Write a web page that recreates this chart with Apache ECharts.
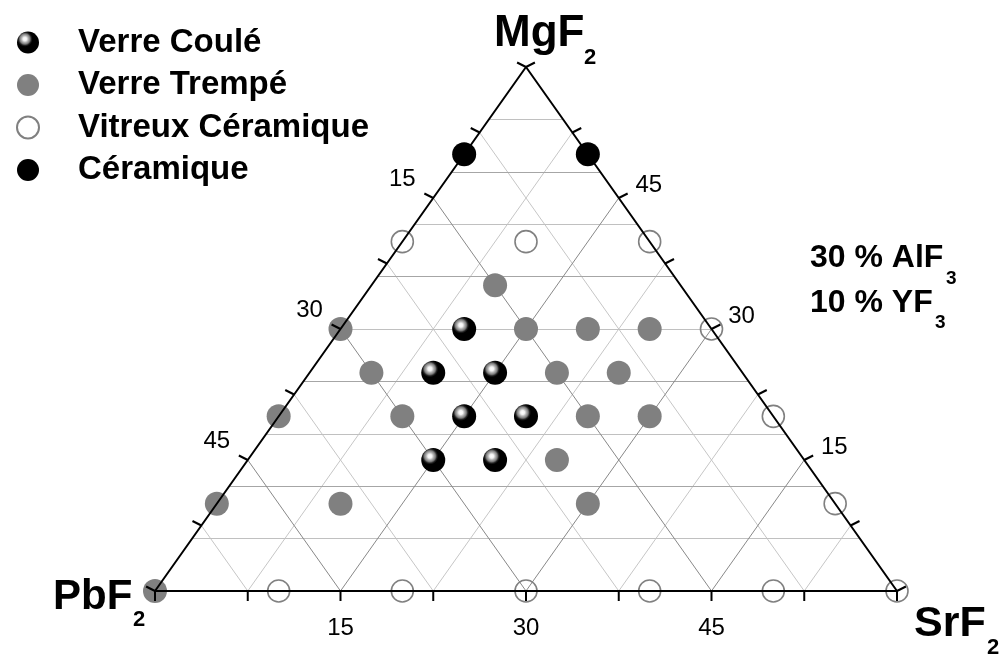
<!DOCTYPE html>
<html>
<head>
<meta charset="utf-8">
<script src="https://cdn.jsdelivr.net/npm/echarts@6/dist/echarts.min.js"></script>
<style>
html,body{margin:0;padding:0;background:#fff;}
#chart{width:1005px;height:658px;}
</style>
</head>
<body>
<div id="chart"></div>
<script>
// ---- data: compositions [PbF2, SrF2, MgF2] (mol %, sum = 60; + 30 % AlF3 + 10 % YF3)
const categories = ['Verre Coulé', 'Verre Trempé', 'Vitreux Céramique', 'Céramique'];
const verreCoule = [[20,10,30],[25,10,25],[20,15,25],[25,15,20],[20,20,20],[30,15,15],[25,20,15]];
const verreTrempe = [[15,10,35],[30,0,30],[15,15,30],[10,20,30],[5,25,30],[30,5,25],[15,20,25],[10,25,25],
  [40,0,20],[30,10,20],[15,25,20],[10,30,20],[20,25,15],[50,0,10],[40,10,10],[20,30,10],[60,0,0]];
const vitreuxCeramique = [[20,0,40],[10,10,40],[0,20,40],[0,30,30],[0,40,20],[0,50,10],[0,60,0],
  [50,10,0],[40,20,0],[30,30,0],[20,40,0],[10,50,0]];
const ceramique = [[10,0,50],[0,10,50]];
const axisTotal = 60;
const tickValues = [0,7.5,15,22.5,30,37.5,45,52.5,60];
const tickLabels = [15,30,45];
const slantGrid = [7.5,15,22.5,30,37.5,45,52.5];
const slantMajor = [15,30,45];
const horizGrid = [6,12,18,24,30,36,42,48,54];
const horizMajor = [12,24,36,48];

// ternary -> cartesian (x = SrF2 + MgF2/2, y = MgF2)
function toXY(pb, sr, mg){ return [sr + mg/2, mg]; }

const FONT = '"Liberation Sans", Arial, Helvetica, sans-serif';
const DARK = '#888888', LIGHT = '#c6c6c6';

// grid lines
const gridDark = [], gridLight = [];
slantGrid.forEach(v => {
  const major = slantMajor.indexOf(v) >= 0;
  // constant SrF2 = v : bottom -> right edge
  const a = {coords:[toXY(axisTotal - v, v, 0), toXY(0, v, axisTotal - v)]};
  // constant PbF2 = v : bottom -> left edge
  const b = {coords:[toXY(v, axisTotal - v, 0), toXY(v, 0, axisTotal - v)]};
  (major ? gridDark : gridLight).push(a, b);
});
const hDark = [], hLight = [];
horizGrid.forEach(m => {
  const l = {coords:[toXY(axisTotal - m, 0, m), toXY(0, axisTotal - m, m)]};
  (horizMajor.indexOf(m) >= 0 ? hDark : hLight).push(l);
});

// tick data: [edge, value]; edge 0 = bottom (SrF2), 1 = left (PbF2), 2 = right (MgF2)
const tickData = [];
[0,1,2].forEach(e => tickValues.forEach(v => tickData.push([e, v])));

function edgePoint(e, v){
  if (e === 0) return toXY(axisTotal - v, v, 0);
  if (e === 1) return toXY(v, 0, axisTotal - v);
  return toXY(0, axisTotal - v, v);
}

const tri = [toXY(60,0,0), toXY(0,60,0), toXY(0,0,60), toXY(60,0,0)];

const glossy = {
  type:'radial', x:0.36, y:0.34, r:0.7,
  colorStops:[
    {offset:0, color:'#ffffff'},
    {offset:0.12, color:'#f2f2f2'},
    {offset:0.22, color:'#b4b4b4'},
    {offset:0.33, color:'#7c7c7c'},
    {offset:0.42, color:'#222222'},
    {offset:0.5, color:'#000000'},
    {offset:1, color:'#000000'}
  ]
};

const chart = echarts.init(document.getElementById('chart'), null, {renderer:'canvas'});

function pts(arr){ return arr.map(d => toXY(d[0], d[1], d[2])); }

chart.setOption({
  animation:false,
  backgroundColor:'#fff',
  grid:{left:155, right:108, top:67, bottom:67},
  xAxis:{type:'value', min:0, max:axisTotal, show:false},
  yAxis:{type:'value', min:0, max:axisTotal, show:false},
  legend:{
    orient:'vertical', left:11, top:21,
    itemWidth:22, itemHeight:22, itemGap:9.5,
    icon:'circle',
    data:categories,
    textStyle:{fontSize:33, fontWeight:'bold', fontFamily:FONT, color:'#000', lineHeight:33, padding:[0,0,0,34]}
  },
  series:[
    {type:'lines', coordinateSystem:'cartesian2d', z:1, silent:true, lineStyle:{color:LIGHT, width:1, opacity:1}, data:gridLight},
    {type:'lines', coordinateSystem:'cartesian2d', z:1, silent:true, lineStyle:{color:'#c0c0c0', width:1, opacity:1}, data:hLight},
    {type:'lines', coordinateSystem:'cartesian2d', z:1, silent:true, lineStyle:{color:'#a6a6a6', width:1, opacity:1}, data:hDark},
    {type:'lines', coordinateSystem:'cartesian2d', z:1, silent:true, lineStyle:{color:DARK, width:1, opacity:1}, data:gridDark},
    {name:categories[0], type:'scatter', z:3, clip:false, symbol:'circle', symbolSize:24,
      itemStyle:{color:glossy, opacity:1}, data:pts(verreCoule)},
    {name:categories[1], type:'scatter', z:3, clip:false, symbol:'circle', symbolSize:24,
      itemStyle:{color:'#808080', opacity:1}, data:pts(verreTrempe)},
    {name:categories[2], type:'scatter', z:3, clip:false, symbol:'circle', symbolSize:22,
      itemStyle:{color:'rgba(255,255,255,0)', borderColor:'#808080', borderWidth:1.6, opacity:1}, data:pts(vitreuxCeramique)},
    {name:categories[3], type:'scatter', z:3, clip:false, symbol:'circle', symbolSize:24,
      itemStyle:{color:'#000', opacity:1}, data:pts(ceramique)},
    {type:'line', z:5, clip:false, silent:true, symbol:'none', lineStyle:{color:'#000', width:2}, data:tri},
    {type:'custom', coordinateSystem:'cartesian2d', z:6, clip:false, silent:true, data:tickData,
      encode:{x:-1, y:-1},
      renderItem:function(params, api){
        const e = api.value(0), v = api.value(1);
        const p = api.coord(edgePoint(e, v));
        let dx, dy, ox, oy;
        if (e === 0){ dx = 0; dy = 1; ox = 0; oy = 37; }
        else if (e === 1){ dx = -0.89; dy = -0.45; ox = -31; oy = -19; }
        else { dx = 0.89; dy = -0.45; ox = 30; oy = -13; }
        const L = 10;
        const children = [{type:'line', shape:{x1:p[0], y1:p[1], x2:p[0]+dx*L, y2:p[1]+dy*L},
          style:{stroke:'#000', lineWidth:2}}];
        if (tickLabels.indexOf(v) >= 0){
          children.push({type:'text', x:p[0]+ox, y:p[1]+oy,
            style:{text:String(v), font:'24px ' + FONT, fill:'#000', align:'center', verticalAlign:'middle'}});
        }
        return {type:'group', children:children};
      }
    }
  ],
  graphic:[
    {type:'text', left:494, top:12, style:{text:'MgF', font:'bold 44px ' + FONT, fill:'#000'}},
    {type:'text', left:584, top:47, style:{text:'2', font:'bold 22px ' + FONT, fill:'#000'}},
    {type:'text', left:53, top:576, style:{text:'PbF', font:'bold 42px ' + FONT, fill:'#000'}},
    {type:'text', left:133, top:609, style:{text:'2', font:'bold 22px ' + FONT, fill:'#000'}},
    {type:'text', left:914, top:603, style:{text:'SrF', font:'bold 43px ' + FONT, fill:'#000'}},
    {type:'text', left:987, top:637, style:{text:'2', font:'bold 22px ' + FONT, fill:'#000'}},
    {type:'text', left:810, top:242, style:{text:'30 % AlF', font:'bold 32px ' + FONT, fill:'#000'}},
    {type:'text', left:946, top:269, style:{text:'3', font:'bold 19px ' + FONT, fill:'#000'}},
    {type:'text', left:810, top:287, style:{text:'10 % YF', font:'bold 32px ' + FONT, fill:'#000'}},
    {type:'text', left:935, top:313, style:{text:'3', font:'bold 19px ' + FONT, fill:'#000'}}
  ]
});
</script>
</body>
</html>
